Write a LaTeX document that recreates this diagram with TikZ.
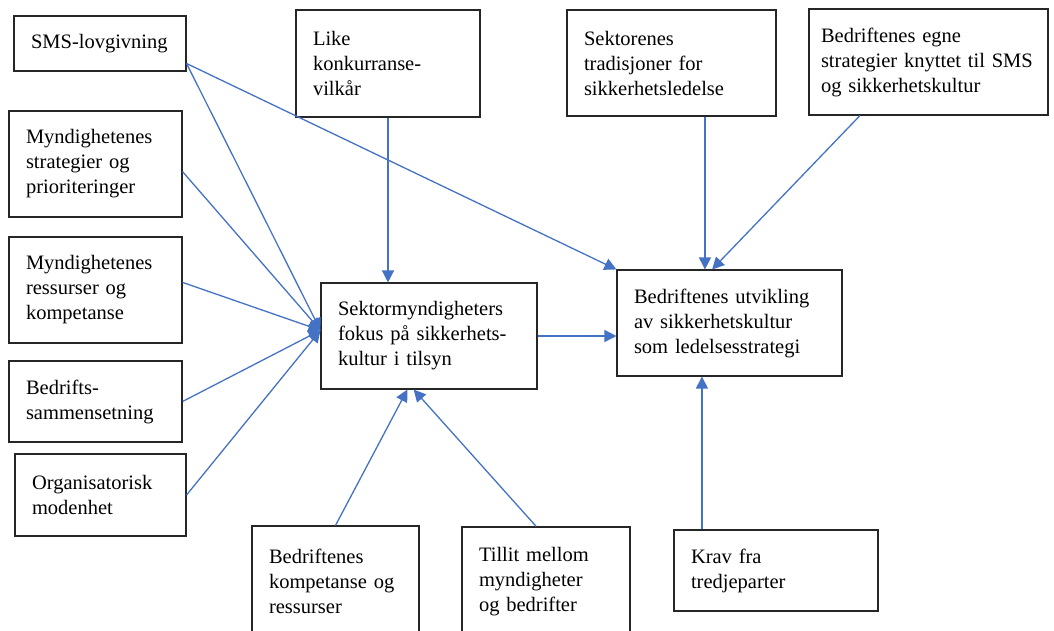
\documentclass[tikz,border=0pt]{standalone}
\usepackage{fontspec}
\setmainfont{Liberation Serif}
\usetikzlibrary{positioning, arrows.meta, calc}
\definecolor{pilblaa}{HTML}{4472C4}
\newcommand{\boksfont}{\fontsize{20.5}{25}\selectfont}

\begin{document}
\begin{tikzpicture}[x=1pt, y=-1pt]
			% nodestiler
			\tikzstyle{boks} = [rectangle, draw=black!85, line width=1.1pt, align=left, inner xsep=17pt, inner ysep=0pt, font=\boksfont]
			\tikzstyle{arrow} = [draw=pilblaa, line width=1.3pt, -{Triangle[length=12pt,width=12pt]}]
			
			\useasboundingbox (0,0) rectangle (1054,630);
			
			% noder til venstre
			\node [boks, text width=138pt, minimum height=55pt] (lov) at (100,43.5) {SMS-lovgivning};
			\node [boks, text width=139pt, minimum height=106pt] (strat) at (95.5,164) {Myndighetenes\\strategier og\\prioriteringer};
			\node [boks, text width=139pt, minimum height=106pt] (ress) at (95.5,290) {Myndighetenes\\ressurser og\\kompetanse};
			\node [boks, text width=139pt, minimum height=81pt] (sammen) at (95.5,401.5) {Bedrifts-\\sammensetning};
			\node [boks, text width=137pt, minimum height=82pt] (modenhet) at (100.5,495) {Organisatorisk\\modenhet};
			
			% noder oppe
			\node [boks, text width=150pt, minimum height=107pt] (vilkaar) at (388,63.5) {Like\\konkurranse-\\vilkår};
			\node [boks, text width=175pt, minimum height=106pt] (tradisjon) at (671.5,63) {Sektorenes\\tradisjoner for\\sikkerhetsledelse};
			\node [boks, text width=215pt, inner xsep=12pt, minimum height=106pt] (egne) at (928.5,62) {Bedriftenes egne\\strategier knyttet til SMS\\og sikkerhetskultur};
			
			% hovednoder
			\node [boks, text width=182pt, minimum height=106pt] (fokus) at (429,336) {Sektormyndigheters\\fokus på sikkerhets-\\kultur i tilsyn};
			\node [boks, text width=191pt, minimum height=106pt] (utvikling) at (729.5,323) {Bedriftenes utvikling\\av sikkerhetskultur\\som ledelsesstrategi};
			
			% noder nede
			\node [boks, text width=133pt, minimum height=110pt] (komp) at (335.5,581) {Bedriftenes\\kompetanse og\\ressurser};
			\node [boks, text width=134pt, minimum height=110pt] (tillit) at (546,582) {Tillit mellom\\myndigheter\\og bedrifter};
			\node [boks, text width=170pt, minimum height=81pt] (krav) at (776,570.5) {Krav fra\\tredjeparter};
			
			% piler inn til fokus
			\draw [arrow] (lov.-13) -- (fokus.177);
			\draw [arrow] (strat.-5) -- (fokus.177);
			\draw [arrow] (ress.5) -- (fokus.177);
			\draw [arrow] (sammen.east) -- (fokus.177);
			\draw [arrow] (modenhet.east) -- (fokus.177);
			\draw [arrow] (vilkaar.south) -- (vilkaar.south |- fokus.north);
			\draw [arrow] (komp.north) -- (fokus.-112);
			\draw [arrow] (tillit.100) -- (fokus.-106);
			
			% piler inn til utvikling
			\draw [arrow] (lov.-13) -- (utvikling.north west);
			\draw [arrow] (tradisjon.-58.7) -- (tradisjon.-58.7 |- utvikling.north);
			\draw [arrow] (egne.-142) -- (utvikling.108);
			\draw [arrow] (fokus.east) -- (fokus.east -| utvikling.west);
			\draw [arrow] (krav.151) -- (krav.151 |- utvikling.south);
		\end{tikzpicture}
\end{document}
